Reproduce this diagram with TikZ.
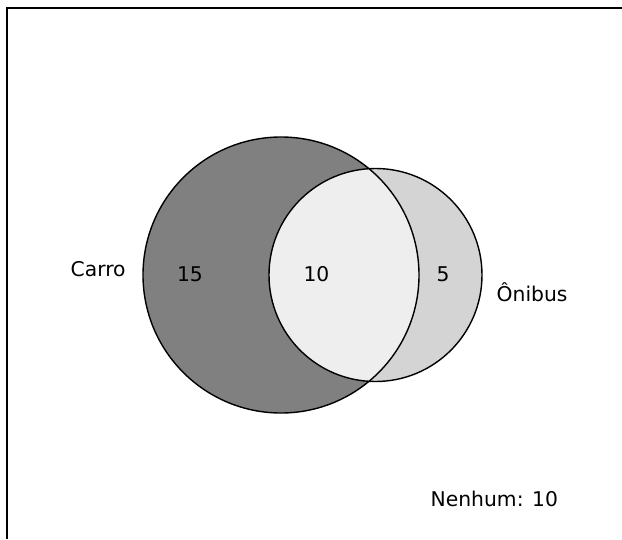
\documentclass[tikz,border=0pt]{standalone}
\usepackage{fontspec}
\setmainfont{DejaVu Sans}
\begin{document}
\begin{tikzpicture}[x=1pt,y=-1pt,
  circ/.style={draw=black,line width=1.4pt},
  lbl/.style={font=\fontsize{20.3}{24}\selectfont,inner sep=0pt,anchor=base west},
  num/.style={font=\fontsize{20.3}{24}\selectfont,inner sep=0pt,anchor=base}]
\definecolor{darkg}{RGB}{128,128,128}
\definecolor{lightg}{RGB}{212,212,212}
\definecolor{interg}{RGB}{238,238,238}
\useasboundingbox (0,0) rectangle (622,539);
\fill[white] (0,0) rectangle (622,539);
% frame
\coordinate (tl) at (7,8);
\coordinate (tr) at (622,8);
\coordinate (bl) at (7,539);
\draw[line width=1.3pt] (tr) -- (tl) -- (bl);
% circles
\coordinate (A) at (281,275);
\coordinate (B) at (375.5,275);
\fill[darkg] (A) circle (138);
\fill[lightg] (B) circle (106.5);
\begin{scope}
  \clip (A) circle (138);
  \fill[interg] (B) circle (106.5);
\end{scope}
\draw[circ] (A) circle (138);
\draw[circ] (B) circle (106.5);
% labels
\node[lbl] (carro) at (70.5,276) {Carro};
\node[lbl] (onibus) at (496.5,301.5) {Ônibus};
\node[num] (n15) at (190,281) {15};
\node[num] (n10) at (316.5,281) {10};
\node[num] (n5) at (443,281) {5};
\node[lbl] (nenhum) at (430.5,506) {Nenhum: 10};
\end{tikzpicture}
\end{document}
